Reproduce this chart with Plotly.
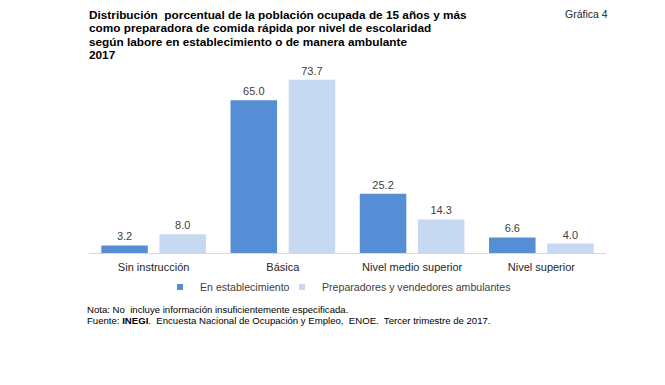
import plotly.graph_objects as go

categories = ["Sin instrucción", "Básica", "Nivel medio superior", "Nivel superior"]
series_names = ["En establecimiento", "Preparadores y vendedores ambulantes"]
establecimiento = [3.2, 65.0, 25.2, 6.6]
ambulantes = [8.0, 73.7, 14.3, 4.0]

title_lines = [
    "Distribución  porcentual de la población ocupada de 15 años y más",
    "como preparadora de comida rápida por nivel de escolaridad",
    "según labore en establecimiento o de manera ambulante",
    "2017",
]
note_lines = [
    "Nota: No  incluye información insuficientemente especificada.",
    "Fuente: <b>INEGI</b>.  Encuesta Nacional de Ocupación y Empleo,  ENOE.  Tercer trimestre de 2017.",
]

FONT = "Liberation Sans, Arial, sans-serif"
C1 = "#558ED5"
C2 = "#C6D9F1"
TXT = "#404040"

# page offset (body margin) compensation
OFF = 8
L, T, W, H = 81, 57, 517, 188
R = 665 - L - W
B = 385 - T - H


def xp(px):
    return (px - OFF - L) / W


def yp(py):
    return 1 - (py - OFF - T) / H


fig = go.Figure()
legend_ids = ["legend", "legend2"]
for name, vals, col, lg in [(series_names[0], establecimiento, C1, legend_ids[0]),
                            (series_names[1], ambulantes, C2, legend_ids[1])]:
    fig.add_trace(go.Bar(
        x=categories, y=vals, name=name, marker=dict(color=col, line=dict(width=0)),
        text=[f"{v:.1f}" for v in vals], textposition="outside", cliponaxis=False,
        textfont=dict(family=FONT, size=11, color=TXT), showlegend=False,
    ))
    fig.add_trace(go.Scatter(
        x=[None], y=[None], mode="markers", name=name, legend=lg,
        marker=dict(symbol="square", size=6, color=col),
    ))

legend_style = dict(orientation="h", xanchor="left", yanchor="middle", y=yp(287),
                    font=dict(family=FONT, size=10.6, color=TXT), itemwidth=30,
                    bgcolor="rgba(0,0,0,0)")

fig.update_layout(
    width=665, height=385,
    margin=dict(l=L, r=R, t=T, b=B),
    paper_bgcolor="white", plot_bgcolor="white",
    barmode="group", bargap=0.1, bargroupgap=0.2,
    font=dict(family=FONT, size=11, color=TXT),
    showlegend=True,
    legend=dict(x=xp(160), **legend_style),
    legend2=dict(x=xp(282), **legend_style),
    xaxis=dict(showline=True, linecolor="#D9D9D9", linewidth=1, ticks="",
               ticklabelstandoff=4,
               tickfont=dict(family=FONT, size=11, color="#262626"), showgrid=False),
    yaxis=dict(range=[0, 80], visible=False, showgrid=False, zeroline=False),
)

title_y = [15, 28.3, 41.6, 55]
for line, py in zip(title_lines, title_y):
    fig.add_annotation(text="<b>" + line + "</b>", xref="paper", yref="paper",
                       x=xp(87), y=yp(py), xanchor="left", yanchor="middle", align="left",
                       showarrow=False, font=dict(family=FONT, size=11.8, color="black"))
fig.add_annotation(text="Gráfica 4", xref="paper", yref="paper",
                   x=xp(563), y=yp(14), xanchor="left", yanchor="middle", showarrow=False,
                   font=dict(family=FONT, size=10.5, color="#262626"))
note_y = [309, 320]
for line, py in zip(note_lines, note_y):
    fig.add_annotation(text=line, xref="paper", yref="paper",
                       x=xp(85), y=yp(py), xanchor="left", yanchor="middle", align="left",
                       showarrow=False, font=dict(family=FONT, size=9.6, color="black"))

fig.write_html("out.html")
